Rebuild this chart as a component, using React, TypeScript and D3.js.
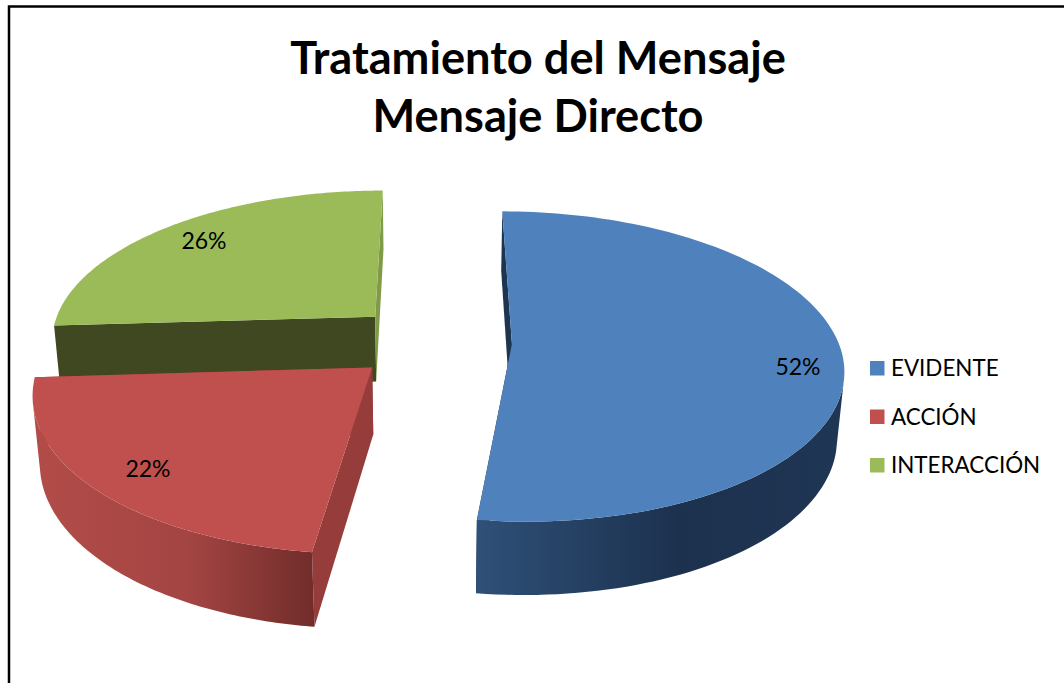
import React from "react";
import * as d3 from "d3";

const titleLines = ["Tratamiento del Mensaje", "Mensaje Directo"];
const categories = ["EVIDENTE", "ACCIÓN", "INTERACCIÓN"];
const values = [52, 22, 26];
const topColors = ["#4f81bd", "#c0504d", "#9bbb59"];
const cutColors = [
  ["#1d3550", "#1d3550"],
  ["#963c3a", "#963c3a"],
  ["#3f4821", "#7f9b48"],
];
const wallStops = [
  ["#2f5078", "#1c314e", "#1f3654"],
  ["#b24c49", "#a44543", "#722d2b"],
  ["#7f9b48", "#7f9b48", "#7f9b48"],
];
const labelPos = [[798, 375], [148, 477], [204, 249]];

const W = 1064, H = 683;
const view = { cx: 432, cy: 341.5, focal: 1990, dist: 6.1, tilt: 27.6, explode: 0.245, depth: 0.232, rot: 0.1 };
const sinT = Math.sin((view.tilt * Math.PI) / 180);
const cosT = Math.cos((view.tilt * Math.PI) / 180);

function project(X: number, Y: number, Z: number): [number, number] {
  const yc = Y * sinT + Z * cosT;
  const zc = view.dist + Y * cosT - Z * sinT;
  return [view.cx + (view.focal * X) / zc, view.cy - (view.focal * yc) / zc];
}

const pieGen = d3.pie<number>().sort(null).startAngle((view.rot * Math.PI) / 180).endAngle(((view.rot + 360) * Math.PI) / 180);
const arcs = pieGen(values);
const pct = d3.format(".0%");
const total = d3.sum(values);
const line = d3.line().curve(d3.curveLinear);

export default function App() {
  const slices = arcs.map((a, i) => {
    const mid = (a.startAngle + a.endAngle) / 2;
    const ox = view.explode * Math.sin(mid);
    const oy = view.explode * Math.cos(mid);
    const s = a.startAngle;
    const e = a.endAngle;
    const steps = d3.range(0, 121).map((k) => s + ((e - s) * k) / 120);
    const facing = steps.filter((t) => {
      const X = ox + Math.sin(t);
      const Y = oy + Math.cos(t);
      return Math.sin(t) * -X + Math.cos(t) * (-view.dist * cosT - Y) > 0;
    });
    const rim = (ts: number[], z: number) => ts.map((t) => project(ox + Math.sin(t), oy + Math.cos(t), z));
    const top = rim(steps, 0);
    const bottom = rim(steps, -view.depth);
    const wallTop = rim(facing, 0);
    const wallBottom = rim(facing, -view.depth);
    const apexT = project(ox, oy, 0);
    const apexB = project(ox, oy, -view.depth);
    return {
      i,
      topPath: line([apexT, ...top])! + "Z",
      wallPath: facing.length ? line([...wallTop, ...wallBottom.slice().reverse()])! + "Z" : "",
      cutA: line([apexT, top[0], bottom[0], apexB])! + "Z",
      cutB: line([apexT, top[top.length - 1], bottom[bottom.length - 1], apexB])! + "Z",
      x0: d3.min(top, (p) => p[0])!,
      x1: d3.max(top, (p) => p[0])!,
    };
  });
  const order = [2, 1, 0];
  return (
    <svg width={W} height={H} style={{ position: "absolute", left: 0, top: 0, background: "#fff" }} fontFamily="Lato, Carlito, sans-serif">
      <defs>
        {slices.map((s) => (
          <linearGradient key={s.i} id={`wall${s.i}`} gradientUnits="userSpaceOnUse" x1={s.x0} x2={s.x1} y1={0} y2={0}>
            {wallStops[s.i].map((c, k) => (
              <stop key={k} offset={k === 1 ? 0.55 : k / 2} stopColor={c} />
            ))}
          </linearGradient>
        ))}
      </defs>
      <path d={`M9,${H}V6.5H${W}`} fill="none" stroke="#000" strokeWidth={2.5} />
      {titleLines.map((t, i) => (
        <text key={t} x={538} y={74 + i * 58} textAnchor="middle" fontWeight={700} fontSize={45.2} fill="#000">{t}</text>
      ))}
      {order.map((i) => {
        const s = slices[i];
        return (
          <g key={i}>
            <path d={s.cutA} fill={cutColors[i][0]} />
            <path d={s.cutB} fill={cutColors[i][1]} />
            {s.wallPath && <path d={s.wallPath} fill={`url(#wall${i})`} />}
            <path d={s.topPath} fill={topColors[i]} />
          </g>
        );
      })}
      {values.map((v, i) => (
        <text key={i} x={labelPos[i][0]} y={labelPos[i][1]} textAnchor="middle" fontSize={23} fill="#000">{pct(v / total)}</text>
      ))}
      {categories.map((c, i) => (
        <g key={c} transform={`translate(870,${361 + i * 48.5})`}>
          <rect width={14.5} height={14.5} fill={topColors[i]} />
          <text x={21} y={15} fontSize={22.4} fill="#000">{c}</text>
        </g>
      ))}
    </svg>
  );
}
